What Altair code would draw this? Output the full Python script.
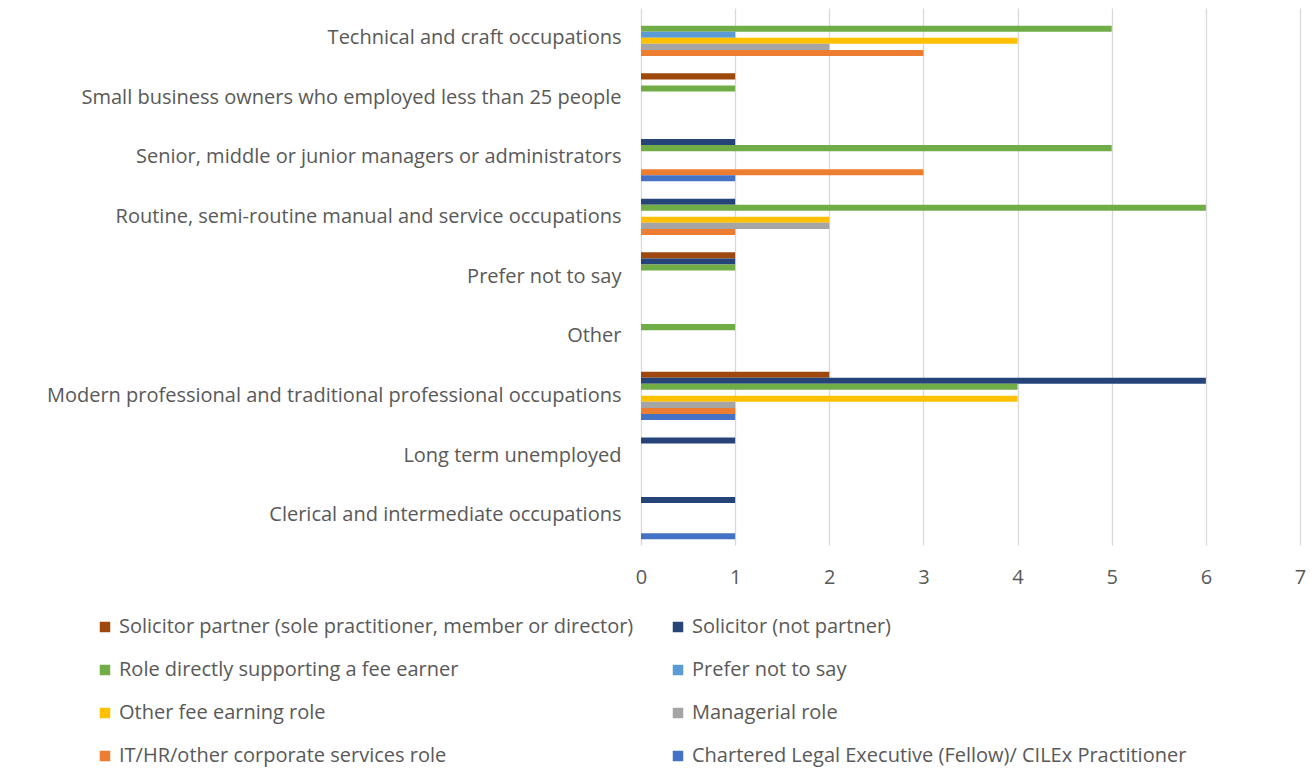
import altair as alt
import pandas as pd

categories = [
    "Technical and craft occupations",
    "Small business owners who employed less than 25 people",
    "Senior, middle or junior managers or administrators",
    "Routine, semi-routine manual and service occupations",
    "Prefer not to say",
    "Other",
    "Modern professional and traditional professional occupations",
    "Long term unemployed",
    "Clerical and intermediate occupations",
]

series = [
    "Solicitor partner (sole practitioner, member or director)",
    "Solicitor (not partner)",
    "Role directly supporting a fee earner",
    "Prefer not to say",
    "Other fee earning role",
    "Managerial role",
    "IT/HR/other corporate services role",
    "Chartered Legal Executive (Fellow)/ CILEx Practitioner",
]

colors = ["#9E480E", "#264478", "#70AD47", "#5B9BD5", "#FFC000", "#A5A5A5", "#ED7D31", "#4472C4"]

# values per series, in category order above
solicitor_partner = [0, 1, 0, 0, 1, 0, 2, 0, 0]
solicitor = [0, 0, 1, 1, 1, 0, 6, 1, 1]
supporting = [5, 1, 5, 6, 1, 1, 4, 0, 0]
prefer_not = [1, 0, 0, 0, 0, 0, 0, 0, 0]
other_fee = [4, 0, 0, 2, 0, 0, 4, 0, 0]
managerial = [2, 0, 0, 2, 0, 0, 1, 0, 0]
it_hr = [3, 0, 3, 1, 0, 0, 1, 0, 0]
cilex = [0, 0, 1, 0, 0, 0, 1, 0, 1]

all_values = [solicitor_partner, solicitor, supporting, prefer_not, other_fee, managerial, it_hr, cilex]

rows = []
for s, vals in zip(series, all_values):
    for c, v in zip(categories, vals):
        rows.append({"category": c, "series": s, "value": v})
df = pd.DataFrame(rows)

FONT = "Open Sans"
GRAY = "#595959"
FS = 20

chart = alt.Chart(df).mark_bar(strokeWidth=0).encode(
    y=alt.Y("category:N", sort=categories, title=None,
            scale=alt.Scale(paddingInner=0.19, paddingOuter=0.095),
            axis=alt.Axis(labelLimit=700, labelPadding=20, ticks=False, domain=False,
                          labelFontSize=FS, labelColor=GRAY, labelFont=FONT)),
    yOffset=alt.YOffset("series:N", sort=series, scale=alt.Scale(paddingInner=0, paddingOuter=0)),
    x=alt.X("value:Q", title=None,
            scale=alt.Scale(domain=[0, 7], nice=False),
            axis=alt.Axis(values=[0, 1, 2, 3, 4, 5, 6, 7], format="d", grid=True, gridColor="#D9D9D9",
                          gridWidth=1.3, ticks=False, domain=False, labelPadding=22, labelFlush=False,
                          labelFontSize=FS, labelColor=GRAY, labelFont=FONT)),
    color=alt.Color("series:N", sort=series,
                    scale=alt.Scale(domain=series, range=colors),
                    legend=alt.Legend(title=None, orient="none", legendX=-546, legendY=609,
                                      direction="horizontal",
                                      columns=2, columnPadding=34, rowPadding=23,
                                      symbolType="square", symbolSize=110, symbolStrokeWidth=0,
                                      labelFontSize=FS, labelColor=GRAY, labelFont=FONT,
                                      labelLimit=800, labelOffset=4, padding=0)),
).properties(
    width=659,
    height=537,
    autosize=alt.AutoSizeParams(type="none"),
    padding={"left": 633, "top": 0, "right": 7, "bottom": 225},
).configure_view(stroke=None)

chart.save("out.html", embed_options={"renderer": "svg", "actions": False})
